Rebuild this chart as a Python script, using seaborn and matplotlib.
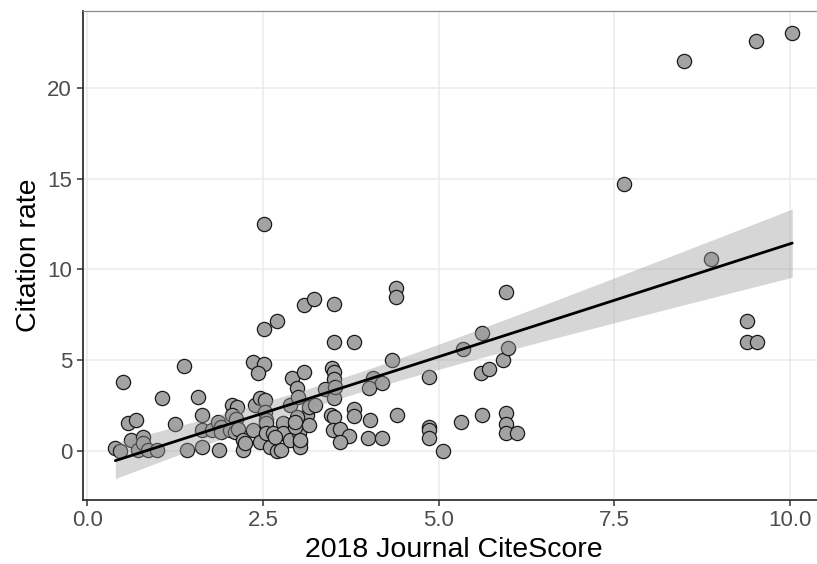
import numpy as np
import pandas as pd
import matplotlib
matplotlib.use("Agg")
import matplotlib.pyplot as plt
import seaborn as sns

# Journal CiteScore (2018) and citation rate for each article
cite_score = [
    0.40, 0.47, 0.51, 0.58, 0.70, 0.63, 0.72, 0.80, 0.80, 0.86,
    0.99, 1.06, 1.25, 1.38, 1.42, 1.58, 1.63, 1.63, 1.64, 1.77,
    1.86, 1.88, 1.91, 1.91, 2.06, 2.13, 2.06, 2.12, 2.03, 2.10,
    2.15, 2.22, 2.22, 2.24, 2.36, 2.52, 2.43, 2.39, 2.46, 2.53,
    2.53, 2.55, 2.36, 2.46, 2.52, 2.52, 2.70, 2.54, 2.54, 2.65,
    2.60, 2.70, 2.76, 2.79, 2.79, 2.88, 2.89, 2.92, 3.09, 2.98,
    3.00, 3.13, 2.98, 3.02, 3.03, 3.03, 2.95, 3.08, 3.22, 3.51,
    3.48, 3.51, 3.51, 3.38, 3.51, 3.47, 3.51, 3.50, 3.60, 3.73,
    3.60, 3.51, 3.80, 3.80, 3.80, 4.06, 4.01, 4.19, 4.02, 3.99,
    4.19, 4.34, 4.39, 4.39, 4.40, 4.86, 4.86, 4.86, 4.86, 5.06,
    5.32, 5.34, 5.61, 5.60, 5.72, 5.61, 5.92, 5.99, 5.96, 5.96,
    5.96, 5.96, 6.11, 7.63, 8.49, 8.88, 9.52, 10.03, 9.39, 9.39,
    9.53, 3.15, 3.24, 3.15, 2.98, 3.03, 3.52, 2.67, 2.96,
]
citation_rate = [
    0.13, 0.00, 3.80, 1.50, 1.68, 0.58, 0.03, 0.77, 0.40, 0.03,
    0.03, 2.88, 1.47, 4.67, 0.02, 2.97, 1.96, 1.14, 0.20, 1.14,
    1.59, 0.02, 1.32, 1.04, 2.52, 2.40, 1.96, 1.75, 1.14, 1.04,
    1.20, 0.58, 0.02, 0.40, 4.90, 4.80, 4.26, 2.52, 2.88, 2.79,
    2.15, 1.69, 1.14, 0.49, 12.48, 6.72, 7.13, 1.54, 0.95, 0.95,
    0.22, 0.00, 0.02, 1.51, 0.95, 0.58, 2.52, 3.99, 4.32, 3.44,
    2.97, 1.96, 1.69, 0.95, 0.49, 0.22, 1.30, 8.01, 8.35, 8.09,
    4.54, 4.35, 3.95, 3.38, 2.88, 1.96, 1.87, 1.14, 1.17, 0.82,
    0.49, 5.97, 5.97, 2.29, 1.91, 3.99, 3.44, 3.71, 1.69, 0.71,
    0.71, 5.00, 9.00, 8.46, 1.96, 4.08, 1.32, 1.14, 0.68, -0.02,
    1.56, 5.62, 6.50, 4.26, 4.48, 1.96, 5.00, 5.68, 8.73, 2.09,
    1.45, 0.99, 0.99, 14.70, 21.49, 10.57, 22.58, 23.03, 7.15, 5.97,
    5.97, 2.42, 2.52, 1.41, 1.87, 0.58, 3.52, 0.77, 1.59,
]

x_ticks = [0.0, 2.5, 5.0, 7.5, 10.0]
x_tick_labels = ["0.0", "2.5", "5.0", "7.5", "10.0"]
y_ticks = [0, 5, 10, 15, 20]

df = pd.DataFrame({"CiteScore": cite_score, "Citation rate": citation_rate})

sns.set_theme(style="white")
plt.rcParams["font.family"] = ["Liberation Sans", "DejaVu Sans"]

W, H = 817, 564
fig = plt.figure(figsize=(W / 100, H / 100), dpi=100)
# panel extends slightly past the right edge of the canvas
left, right, top, bottom = 82.5, 826, 11, 500
ax = fig.add_axes([left / W, 1 - bottom / H, (right - left) / W, (bottom - top) / H])

sns.regplot(
    data=df, x="CiteScore", y="Citation rate", ax=ax,
    ci=None, truncate=True,
    scatter_kws=dict(s=105, facecolor="#a3a3a3", edgecolor="#1a1a1a",
                     linewidths=0.9, alpha=1, zorder=2),
    line_kws=dict(color="black", lw=2.0, zorder=4),
)

# 95% confidence band of the least-squares fit (t-based, as in lm)
x = df["CiteScore"].to_numpy()
y = df["Citation rate"].to_numpy()
n = len(x)
slope, intercept = np.polyfit(x, y, 1)
resid = y - (intercept + slope * x)
s_err = np.sqrt(np.sum(resid ** 2) / (n - 2))
sxx = np.sum((x - x.mean()) ** 2)
t_crit = 1.979
grid = np.linspace(x.min(), x.max(), 200)
fit = intercept + slope * grid
half = t_crit * s_err * np.sqrt(1 / n + (grid - x.mean()) ** 2 / sxx)
ax.fill_between(grid, fit - half, fit + half, color="#999999", alpha=0.4,
                lw=0, zorder=3)

ax.set_xlim(-0.067, 10.51)
ax.set_ylim(-2.72, 24.25)
ax.set_xticks(x_ticks)
ax.set_xticklabels(x_tick_labels)
ax.set_yticks(y_ticks)

ax.grid(True, color="#ebebeb", lw=1.1, zorder=0)
ax.set_axisbelow(True)
ax.set_facecolor("white")

for side in ["left", "bottom"]:
    ax.spines[side].set_color("#333333")
    ax.spines[side].set_linewidth(1.3)
for side in ["top", "right"]:
    ax.spines[side].set_color("#8a8a8a")
    ax.spines[side].set_linewidth(0.9)

ax.tick_params(axis="both", which="major", length=4.5, width=1.1, color="#333333",
               labelsize=16, labelcolor="#4d4d4d", pad=3, left=True, bottom=True)

ax.set_xlabel("2018 Journal CiteScore", fontsize=20.5, color="black", labelpad=4)
ax.set_ylabel("Citation rate", fontsize=20.5, color="black", labelpad=4)

fig.savefig("out.png", dpi=100)
